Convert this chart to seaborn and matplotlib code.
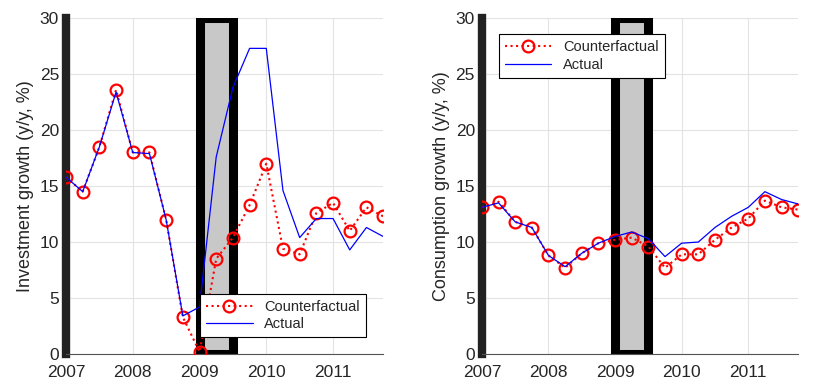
import numpy as np
import matplotlib
matplotlib.use("Agg")
import matplotlib.pyplot as plt
from matplotlib.patches import Rectangle
import seaborn as sns

quarters = [2007.0, 2007.25, 2007.5, 2007.75, 2008.0, 2008.25, 2008.5, 2008.75,
            2009.0, 2009.25, 2009.5, 2009.75, 2010.0, 2010.25, 2010.5, 2010.75,
            2011.0, 2011.25, 2011.5, 2011.75]

inv_counterfactual = [15.8, 14.5, 18.5, 23.6, 18.0, 18.0, 12.0, 3.3,
                      0.2, 8.5, 10.4, 13.3, 17.0, 9.4, 8.9, 12.6,
                      13.5, 11.0, 13.1, 12.3]
inv_actual = [15.8, 14.5, 18.5, 23.4, 18.0, 17.9, 12.0, 3.4,
              4.2, 17.6, 23.8, 27.3, 27.3, 14.6, 10.4, 12.1,
              12.1, 9.3, 11.3, 10.5]

cons_counterfactual = [13.1, 13.6, 11.8, 11.3, 8.8, 7.7, 9.0, 9.9,
                       10.2, 10.4, 9.6, 7.7, 8.9, 8.9, 10.2, 11.3,
                       12.1, 13.7, 13.1, 12.9]
cons_actual = [13.1, 13.5, 11.8, 11.3, 8.8, 7.8, 9.0, 9.9,
               10.5, 10.9, 10.3, 8.7, 9.9, 10.0, 11.3, 12.3,
               13.1, 14.5, 13.8, 13.4]

recession = (2009.0, 2009.5)
year_ticks = [2007, 2008, 2009, 2010, 2011]
y_ticks = [0, 5, 10, 15, 20, 25, 30]

sns.set_style("whitegrid")
plt.rcParams['font.family'] = ['Liberation Sans', 'DejaVu Sans']

fig = plt.figure(figsize=(8.28, 3.91), dpi=100)
ax1 = fig.add_axes([0.0797, 0.0946, 0.383, 0.859])
ax2 = fig.add_axes([0.582, 0.0946, 0.382, 0.859])

panels = [
    (ax1, inv_counterfactual, inv_actual, "Investment growth (y/y, %)",
     dict(loc="lower left", bbox_to_anchor=(0.423, 0.05))),
    (ax2, cons_counterfactual, cons_actual, "Consumption growth (y/y, %)",
     dict(loc="upper left", bbox_to_anchor=(0.054, 0.952))),
]

for ax, cf, act, ylab, legkw in panels:
    # recession band
    box = Rectangle((recession[0], 0), recession[1] - recession[0], 30,
                    facecolor="#c8c8c8", edgecolor="black", linewidth=6.5,
                    joinstyle="round", zorder=1.5)
    ax.add_patch(box)

    sns.lineplot(x=quarters, y=cf, ax=ax, color="red", linestyle=":",
                 linewidth=1.5, marker="o", markersize=8.5,
                 markerfacecolor="none", markeredgecolor="red",
                 markeredgewidth=1.6, label="Counterfactual", zorder=3)
    sns.lineplot(x=quarters, y=act, ax=ax, color="blue", linewidth=0.9,
                 label="Actual", zorder=3)

    ax.set_xlim(2007, 2011.75)
    ax.set_ylim(0, 30)
    ax.set_xticks(year_ticks)
    ax.set_yticks(y_ticks)
    ax.set_ylabel(ylab, fontsize=13, color="#262626", labelpad=4)
    ax.grid(True, color="#e3e3e3", linewidth=0.8)
    ax.set_axisbelow(True)

    for s in ["top", "right"]:
        ax.spines[s].set_visible(False)
    ax.spines["left"].set_color("#222222")
    ax.spines["left"].set_linewidth(6)
    ax.spines["left"].set_zorder(2)
    ax.spines["bottom"].set_color("#555555")
    ax.spines["bottom"].set_linewidth(0.8)
    ax.tick_params(axis="y", labelsize=12.5, colors="#262626",
                   direction="in", length=5, width=3, pad=5)
    ax.tick_params(axis="x", labelsize=12.5, colors="#262626",
                   direction="in", width=0.8, length=3, pad=8)

    leg = ax.legend(fontsize=10.5, frameon=True, fancybox=False,
                    edgecolor="black", framealpha=1, borderpad=0.4,
                    labelspacing=0.25, handlelength=3.2, borderaxespad=0,
                    **legkw)
    leg.get_frame().set_linewidth(0.8)
    leg.set_zorder(5)

fig.savefig("out.png", dpi=100)
